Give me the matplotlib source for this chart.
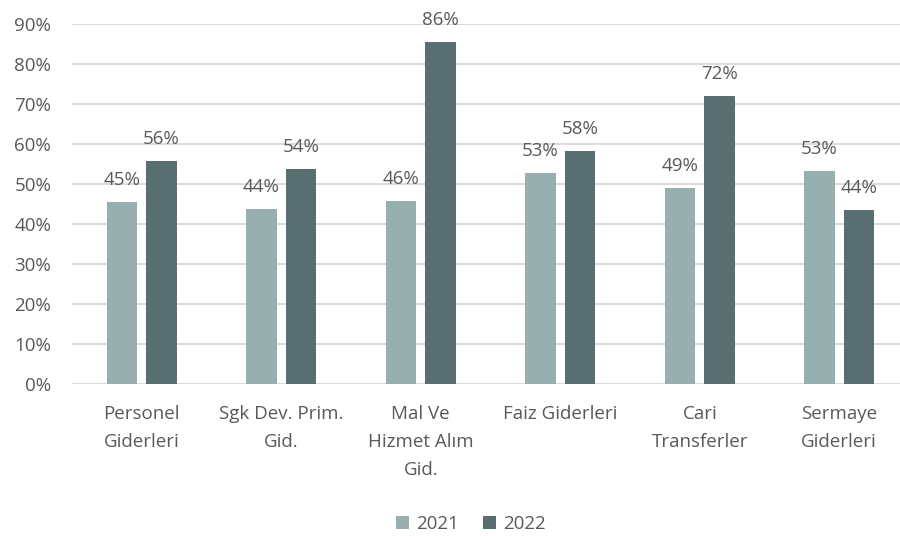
import matplotlib
matplotlib.use("Agg")
import matplotlib.pyplot as plt
import numpy as np

categories = ["Personel\nGiderleri", "Sgk Dev. Prim.\nGid.", "Mal Ve\nHizmet Alım\nGid.",
              "Faiz Giderleri", "Cari\nTransferler", "Sermaye\nGiderleri"]
values_2021 = [45.4, 43.8, 45.8, 52.7, 48.9, 53.3]
values_2022 = [55.8, 53.7, 85.5, 58.3, 71.9, 43.6]
series_names = ["2021", "2022"]
yticks = [0, 10, 20, 30, 40, 50, 60, 70, 80, 90]

plt.rcParams['font.family'] = ['Open Sans', 'DejaVu Sans']
TXT = "#595959"
C1 = "#97B0AF"
C2 = "#586E70"
FS = 13.5

fig = plt.figure(figsize=(9, 5.36), dpi=100)
ax = fig.add_axes([0.08, 0.2836, 1.01 - 0.08, 0.6716])

x = np.arange(len(categories))
w = 0.222
off = 0.1416
b1 = ax.bar(x - off, values_2021, w, color=C1, label=series_names[0], zorder=3)
b2 = ax.bar(x + off, values_2022, w, color=C2, label=series_names[1], zorder=3)

for bars, vals in ((b1, values_2021), (b2, values_2022)):
    for r, v in zip(bars, vals):
        ax.annotate(f"{round(v):.0f}%", (r.get_x() + r.get_width() / 2, r.get_height()),
                    xytext=(0, 9.3), textcoords="offset points", ha="center", va="bottom",
                    fontsize=FS, color=TXT)

ax.set_xlim(-0.5, len(categories) - 0.5)
ax.set_ylim(0, 90)
ax.set_yticks(yticks)
ax.set_yticklabels([f"{t}%" for t in yticks], fontsize=FS, color=TXT)
ax.set_xticks(x)
ax.set_xticklabels(categories, fontsize=FS, color=TXT, linespacing=1.72)
ax.tick_params(axis='both', length=0)
ax.tick_params(axis='y', pad=15)
ax.tick_params(axis='x', pad=15)
ax.grid(axis='y', color="#D9D9D9", linewidth=1.3, zorder=0)
for s in ax.spines.values():
    s.set_visible(False)

leg = fig.legend(handles=[b1, b2], labels=series_names, loc="center", bbox_to_anchor=(0.523, 0.022),
                 ncol=2, frameon=False, fontsize=FS, handlelength=0.7, handleheight=0.7,
                 handletextpad=0.35, columnspacing=1.3)
for t in leg.get_texts():
    t.set_color(TXT)

fig.savefig("out.png", dpi=100)
